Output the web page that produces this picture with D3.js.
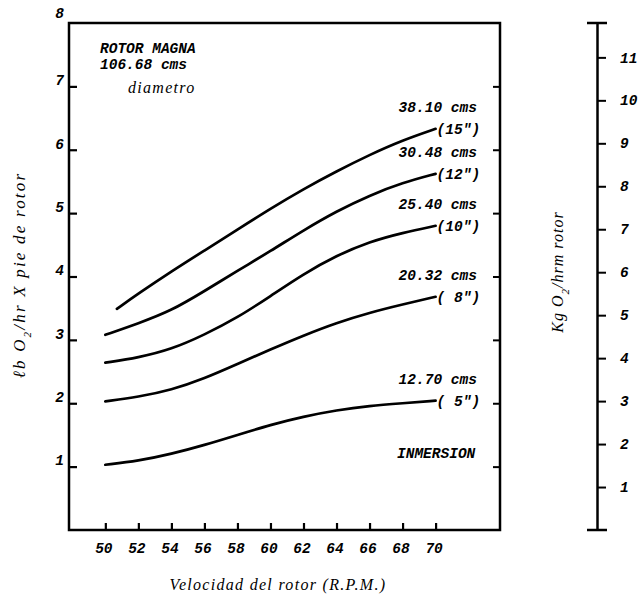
<!DOCTYPE html>
<html>

<head>
    <title>Rotor Magna</title>
    <script src="https://d3js.org/d3.v7.min.js"></script>
    <style>
        body {
            margin: 0;
            background: #fff;
        }

        .curve {
            fill: none;
            stroke: #000;
            stroke-width: 2.7;
            stroke-linecap: round;
        }

        .tick-lbl text,
        .lbl {
            font-family: "Liberation Mono", monospace;
            font-style: italic;
            font-weight: bold;
            fill: #000;
        }

        .title {
            font-family: "Liberation Serif", serif;
            font-style: italic;
            font-size: 16px;
            letter-spacing: 1.3px;
            fill: #000;
        }
    </style>
</head>

<body>
<script>
    // velocidad del rotor (R.P.M.)
    var rpm = [50, 52, 54, 56, 58, 60, 62, 64, 66, 68, 70];
    var rpm15 = [50.7, 52, 54, 56, 58, 60, 62, 64, 66, 68, 70];

    // lb O2 / hr x pie de rotor, one list per inmersion
    var inm15 = [3.49, 3.73, 4.08, 4.41, 4.74, 5.07, 5.38, 5.66, 5.92, 6.15, 6.33];
    var inm12 = [3.08, 3.26, 3.46, 3.77, 4.09, 4.40, 4.73, 5.03, 5.28, 5.48, 5.62];
    var inm10 = [2.64, 2.72, 2.85, 3.08, 3.35, 3.69, 4.04, 4.33, 4.55, 4.69, 4.80];
    var inm8 = [2.03, 2.10, 2.21, 2.39, 2.62, 2.85, 3.07, 3.27, 3.43, 3.56, 3.68];
    var inm5 = [1.03, 1.09, 1.20, 1.34, 1.50, 1.66, 1.79, 1.89, 1.96, 2.00, 2.04];

    var cmsLabels = ["38.10 cms", "30.48 cms", "25.40 cms", "20.32 cms", "12.70 cms"];
    var inLabels = ["(15\")", "(12\")", "(10\")", "( 8\")", "( 5\")"];

    var xTicks = [50, 52, 54, 56, 58, 60, 62, 64, 66, 68, 70];
    var lbTicks = [1, 2, 3, 4, 5, 6, 7, 8];
    var kgTicks = [1, 2, 3, 4, 5, 6, 7, 8, 9, 10, 11];

    var w = 639;
    var h = 599;

    var pLeft = 69, pRight = 500, pTop = 23, pBottom = 530;

    var x = d3.scaleLinear().domain([47.8, 73.9]).range([pLeft, pRight]);
    var y = d3.scaleLinear().domain([0, 8]).range([pBottom, pTop]);
    var yKg = d3.scaleLinear().domain([0, 11.8]).range([pBottom, pTop]);

    var svg = d3.select("body")
        .append("svg")
        .attr("width", w)
        .attr("height", h);

    var series = [
        { rpm: rpm15, v: inm15 },
        { rpm: rpm, v: inm12 },
        { rpm: rpm, v: inm10 },
        { rpm: rpm, v: inm8 },
        { rpm: rpm, v: inm5 }
    ].map(function (s, i) {
        return {
            cms: cmsLabels[i],
            inch: inLabels[i],
            pts: s.rpm.map(function (r, j) { return { r: r, v: s.v[j] }; })
        };
    });

    var line = d3.line()
        .x(function (d) { return x(d.r); })
        .y(function (d) { return y(d.v); })
        .curve(d3.curveBasis);

    // frame
    svg.append("rect")
        .attr("x", pLeft)
        .attr("y", pTop)
        .attr("width", pRight - pLeft)
        .attr("height", pBottom - pTop)
        .attr("fill", "none")
        .attr("stroke", "#000")
        .attr("stroke-width", 2.5);

    // left axis, ticks pointing in
    var yAxis = svg.append("g")
        .attr("class", "tick-lbl")
        .attr("transform", "translate(" + pLeft + ",0)")
        .call(d3.axisLeft(y).tickValues(lbTicks).tickSizeInner(-8).tickSizeOuter(0).tickPadding(5));
    yAxis.select(".domain").remove();
    yAxis.selectAll("line").attr("stroke-width", 2.2);
    yAxis.selectAll(".tick").filter(function (d) { return d === 8; }).select("line").remove();
    yAxis.selectAll("text")
        .attr("font-size", 14.5)
        .attr("dy", function (d) { return d === 8 ? "-0.35em" : "-0.12em"; });

    // right frame ticks
    var yAxisR = svg.append("g")
        .attr("transform", "translate(" + pRight + ",0)")
        .call(d3.axisRight(y).tickValues([1, 2, 3, 4, 5, 6, 7]).tickSizeInner(-7).tickSizeOuter(0).tickFormat(""));
    yAxisR.select(".domain").remove();
    yAxisR.selectAll("line").attr("stroke-width", 2);

    // bottom axis, ticks pointing up
    var xAxis = svg.append("g")
        .attr("class", "tick-lbl")
        .attr("transform", "translate(0," + pBottom + ")")
        .call(d3.axisBottom(x).tickValues(xTicks).tickSizeInner(-7).tickSizeOuter(0).tickPadding(13));
    xAxis.select(".domain").remove();
    xAxis.selectAll("line").attr("stroke-width", 2.2);
    xAxis.selectAll("text").attr("font-size", 14.5).attr("dx", -2);

    // kg axis on the right
    var kgX = 597;
    var kgAxis = svg.append("g")
        .attr("class", "tick-lbl")
        .attr("transform", "translate(" + kgX + ",0)")
        .call(d3.axisRight(yKg).tickValues(kgTicks).tickSizeInner(9).tickSizeOuter(0).tickPadding(14));
    kgAxis.select(".domain").attr("stroke-width", 2.5);
    kgAxis.selectAll("line").attr("stroke-width", 2);
    kgAxis.selectAll("text").attr("font-size", 14.5);
    kgAxis.selectAll(".cap")
        .data(yKg.range())
        .enter()
        .append("line")
        .attr("x1", -10)
        .attr("x2", 10)
        .attr("y1", function (d) { return d; })
        .attr("y2", function (d) { return d; })
        .attr("stroke", "#000")
        .attr("stroke-width", 2.5);

    // curves
    svg.selectAll(".curve")
        .data(series)
        .enter()
        .append("path")
        .attr("class", "curve")
        .attr("d", function (d) { return line(d.pts); });

    // curve labels
    series.forEach(function (s) {
        var last = s.pts[s.pts.length - 1];
        var ex = x(last.r);
        var ey = y(last.v);
        svg.append("text")
            .attr("class", "lbl")
            .attr("x", ex + 1)
            .attr("y", ey + 5)
            .attr("font-size", 14.5)
            .text(s.inch);
        svg.append("text")
            .attr("class", "lbl")
            .attr("x", ex - 37)
            .attr("y", ey - 17)
            .attr("font-size", 14.5)
            .text(s.cms);
    });

    svg.append("text")
        .attr("class", "lbl")
        .attr("x", 397)
        .attr("y", 458)
        .attr("font-size", 14.5)
        .attr("font-weight", "normal")
        .text("INMERSION");

    // rotor note
    svg.append("text")
        .attr("class", "lbl")
        .attr("x", 100)
        .attr("y", 53)
        .attr("font-size", 14.5)
        .attr("font-weight", "normal")
        .text("ROTOR MAGNA");
    svg.append("text")
        .attr("class", "lbl")
        .attr("x", 100)
        .attr("y", 69)
        .attr("font-size", 14.5)
        .attr("font-weight", "normal")
        .text("106.68 cms");
    svg.append("text")
        .attr("class", "title")
        .attr("x", 128)
        .attr("y", 93)
        .text("diametro");

    // titles
    svg.append("text")
        .attr("class", "title")
        .attr("x", 278)
        .attr("y", 590)
        .attr("text-anchor", "middle")
        .text("Velocidad del rotor (R.P.M.)");

    var lt = svg.append("text")
        .attr("class", "title")
        .attr("text-anchor", "middle")
        .style("font-size", "17px")
        .style("letter-spacing", "2.2px")
        .attr("transform", "translate(25,275) rotate(-90)");
    lt.append("tspan").text("ℓb  O");
    lt.append("tspan").attr("baseline-shift", "sub").style("font-size", "11px").text("2");
    lt.append("tspan").text("/hr X pie de rotor");

    var rt = svg.append("text")
        .attr("class", "title")
        .attr("text-anchor", "middle")
        .style("letter-spacing", "1px")
        .attr("transform", "translate(563,272) rotate(-90)");
    rt.append("tspan").text("Kg O");
    rt.append("tspan").attr("baseline-shift", "sub").style("font-size", "11px").text("2");
    rt.append("tspan").text("/hrm rotor");
</script>
</body>

</html>
